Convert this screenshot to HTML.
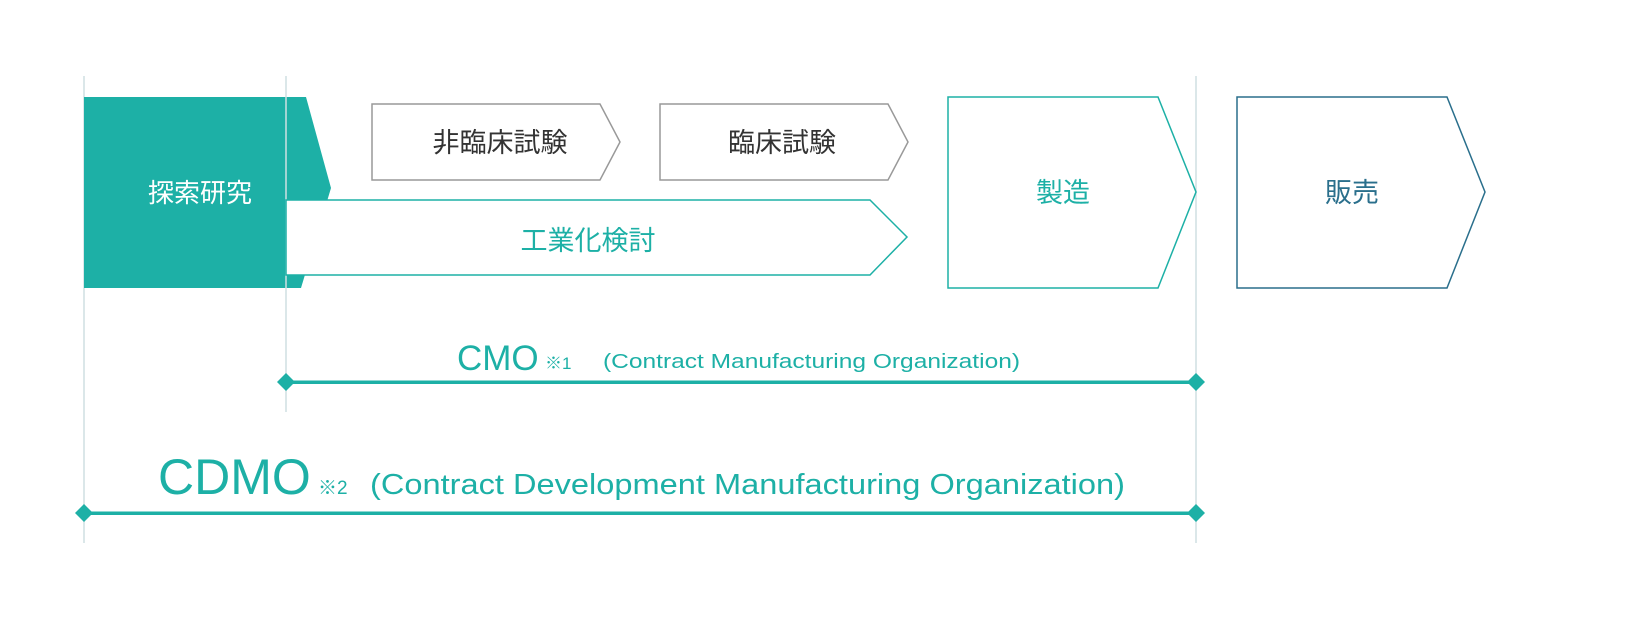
<!DOCTYPE html>
<html><head><meta charset="utf-8"><style>
html,body{margin:0;padding:0;background:#fff;}
svg{display:block;}
text{font-family:"Liberation Sans","Noto Sans CJK JP",sans-serif;}
</style></head><body>
<svg width="1632" height="644" viewBox="0 0 1632 644" xmlns="http://www.w3.org/2000/svg">
<g stroke="#cfdfe2" stroke-width="1.5">
<line x1="84" y1="76" x2="84" y2="543"/>
<line x1="286" y1="76" x2="286" y2="412"/>
<line x1="1196" y1="76" x2="1196" y2="543"/>
</g>
<polygon points="84,97 306,97 331,188 301,288 84,288" fill="#1db0a6"/>
<line x1="286" y1="97" x2="286" y2="288" stroke="#cfdfe2" stroke-width="1.5"/>
<polygon points="286,200 870,200 907,237 870,275 286,275" fill="#fff" stroke="#1db0a6" stroke-width="1.5"/>
<polygon points="372,104 600,104 620,142 600,180 372,180" fill="#fff" stroke="#999" stroke-width="1.5"/>
<polygon points="660,104 888,104 908,142 888,180 660,180" fill="#fff" stroke="#999" stroke-width="1.5"/>
<polygon points="948,97 1158,97 1196,192 1158,288 948,288" fill="#fff" stroke="#1db0a6" stroke-width="1.5"/>
<polygon points="1237,97 1447,97 1485,192 1447,288 1237,288" fill="#fff" stroke="#2a6f8c" stroke-width="1.5"/>
<text x="200" y="202" font-size="26" fill="#fff" text-anchor="middle">探索研究</text>
<text x="500" y="152" font-size="27" fill="#333" text-anchor="middle">非臨床試験</text>
<text x="782" y="152" font-size="27" fill="#333" text-anchor="middle">臨床試験</text>
<text x="588" y="250" font-size="27" fill="#1db0a6" text-anchor="middle">工業化検討</text>
<text x="1063" y="202" font-size="27" fill="#1db0a6" text-anchor="middle">製造</text>
<text x="1352" y="202" font-size="27" fill="#2a6f8c" text-anchor="middle">販売</text>
<g fill="#1db0a6">
<rect x="286" y="380.5" width="910" height="3.5"/>
<polygon points="286,373 295,382 286,391 277,382"/>
<polygon points="1196,373 1205,382 1196,391 1187,382"/>
<rect x="84" y="511.5" width="1112" height="3.5"/>
<polygon points="84,504 93,513 84,522 75,513"/>
<polygon points="1196,504 1205,513 1196,522 1187,513"/>
<text x="457" y="370" font-size="35">CMO</text>
<text x="545" y="369" font-size="17">※1</text>
<text x="603" y="368" font-size="20" textLength="417" lengthAdjust="spacingAndGlyphs">(Contract Manufacturing Organization)</text>
<text x="158" y="494" font-size="50">CDMO</text>
<text x="318" y="494" font-size="19">※2</text>
<text x="370" y="494" font-size="29" textLength="755" lengthAdjust="spacingAndGlyphs">(Contract Development Manufacturing Organization)</text>
</g>
</svg>
</body></html>
